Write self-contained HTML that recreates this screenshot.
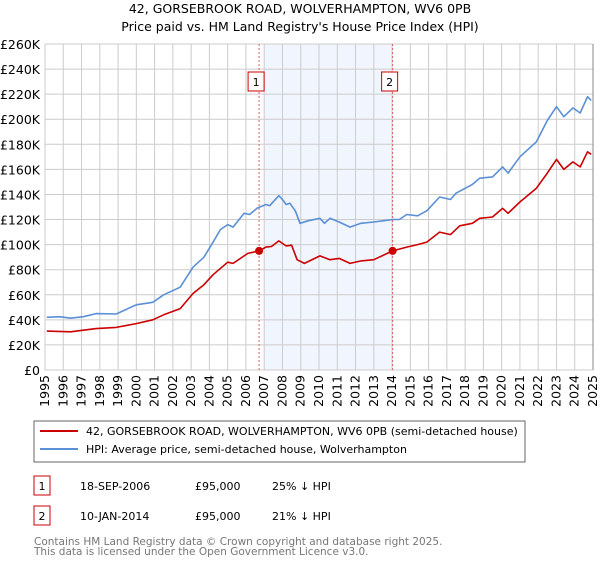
<!DOCTYPE html>
<html><head><meta charset="utf-8"><style>
body{margin:0;background:#fff;font-family:"DejaVu Sans","Liberation Sans",sans-serif;}
svg text{font-family:"DejaVu Sans","Liberation Sans",sans-serif;}
</style></head><body>
<svg id="c" width="600" height="560" xmlns="http://www.w3.org/2000/svg">
<text x="300" y="13" text-anchor="middle" font-size="12.5">42, GORSEBROOK ROAD, WOLVERHAMPTON, WV6 0PB</text>
<text x="300" y="31" text-anchor="middle" font-size="12.5">Price paid vs. HM Land Registry's House Price Index (HPI)</text>
<g id="plot"></g>
<rect x="34" y="421" width="491" height="41" fill="none" stroke="#666"/>
<line x1="40" y1="431" x2="78" y2="431" stroke="#cc0000" stroke-width="2"/>
<text x="86" y="435" font-size="11">42, GORSEBROOK ROAD, WOLVERHAMPTON, WV6 0PB (semi-detached house)</text>
<line x1="40" y1="449" x2="78" y2="449" stroke="#5b8fd6" stroke-width="2"/>
<text x="86" y="453" font-size="11">HPI: Average price, semi-detached house, Wolverhampton</text>
<g>
<rect x="34" y="476" width="16" height="19" fill="#fff" stroke="#cc0000"/>
<text x="42" y="490" text-anchor="middle" font-size="11">1</text>
<text x="80" y="490" font-size="11">18-SEP-2006</text>
<text x="195" y="490" font-size="11">£95,000</text>
<text x="272" y="490" font-size="11">25% ↓ HPI</text></g>
<g>
<rect x="34" y="506" width="16" height="19" fill="#fff" stroke="#cc0000"/>
<text x="42" y="520" text-anchor="middle" font-size="11">2</text>
<text x="80" y="520" font-size="11">10-JAN-2014</text>
<text x="195" y="520" font-size="11">£95,000</text>
<text x="272" y="520" font-size="11">21% ↓ HPI</text></g>
<text x="34" y="545" font-size="10.5" fill="#777">Contains HM Land Registry data © Crown copyright and database right 2025.</text>
<text x="34" y="555" font-size="10.5" fill="#777">This data is licensed under the Open Government Licence v3.0.</text>
</svg>
<script>
const hpiYears=[1995.1,1995.8,1996.4,1997.1,1997.8,1998.9,2000,2000.9,2001.5,2002.4,2003.1,2003.7,2004.2,2004.6,2005,2005.3,2005.9,2006.2,2006.6,2007.1,2007.3,2007.8,2008,2008.2,2008.4,2008.7,2008.96,2009.4,2010.05,2010.3,2010.6,2011.1,2011.7,2012.3,2013,2013.5,2014.05,2014.4,2014.8,2015.4,2015.9,2016.6,2017.2,2017.5,2018.4,2018.8,2019.5,2020.05,2020.35,2021,2021.9,2022.5,2023,2023.4,2023.9,2024.3,2024.7,2024.9];
const hpiValues=[42,42.5,41.3,42.5,45,44.7,52,54,60,66,82,90,102,112,116,114,125,124,129,132,131,139,136,132,133,127,117,119,121,117,121,118,114,117,118,119,120,120,124,123,127,138,136,141,148,153,154,162,157,170,182,199,210,202,209,205,218,215];
const ppYears=[1995.1,1996.4,1997.8,1998.9,2000,2000.9,2001.5,2002.4,2003.1,2003.7,2004.2,2005,2005.3,2006.1,2006.72,2007.1,2007.4,2007.8,2008.2,2008.5,2008.8,2009.2,2010.05,2010.6,2011.1,2011.7,2012.3,2013,2014.03,2014.8,2015.4,2015.9,2016.6,2017.2,2017.7,2018.4,2018.8,2019.5,2020.05,2020.35,2021,2021.9,2022.5,2023,2023.4,2023.9,2024.3,2024.7,2024.9];
const ppValues=[31,30.5,33,34,37,40,44,49,61,68,76,86,85,93,95,98,98.5,103,99,99.5,88,85,91,88,89,85,87,88,95,98,100,102,110,108,115,117,121,122,129,125,134,145,157,168,160,166,162,174,172];
const saleYears=[2006.72,2014.03];
const saleValues=[95,95];
const saleLabels=["1","2"];
const yTicks=[0,20,40,60,80,100,120,140,160,180,200,220,240,260];
const xTicks=[1995,1996,1997,1998,1999,2000,2001,2002,2003,2004,2005,2006,2007,2008,2009,2010,2011,2012,2013,2014,2015,2016,2017,2018,2019,2020,2021,2022,2023,2024,2025];
const X0=45,X1=593,Y0=370,Y1=44;
const xs=y=>X0+(y-1995)/30*(X1-X0);
const ys=v=>Y0-v/260*(Y0-Y1);
const NS="http://www.w3.org/2000/svg";
const g=document.getElementById('plot');
function mk(t,a){const e=document.createElementNS(NS,t);for(const k in a)e.setAttribute(k,a[k]);g.appendChild(e);return e;}
let sh=mk('rect',{x:xs(2007),y:Y1,width:xs(saleYears[1])-xs(2007),height:Y0-Y1,fill:'#eef3fd',opacity:0.8});


yTicks.forEach(v=>{
 let l=mk('line',{x1:X0,x2:X1,y1:ys(v),y2:ys(v),stroke:'#ccc'});
 
 
 let t=mk('text',{x:40,y:ys(v)+5,'text-anchor':'end','font-size':'12.5'});
 t.textContent=v==0?'£0':'£'+v+'K';
 
 
});
xTicks.forEach(y=>{
 let l=mk('line',{x1:xs(y),x2:xs(y),y1:Y1,y2:Y0,stroke:'#ccc'});
 
 
 let t=mk('text',{x:0,y:0,'font-size':'12.5','text-anchor':'end',transform:`translate(${xs(y)+4},${Y0+5}) rotate(-90)`});
 t.textContent=y;
 
 
});
saleYears.forEach((y,i)=>{
 let l=mk('line',{x1:xs(y),x2:xs(y),y1:Y1,y2:Y0,stroke:'#e06060','stroke-dasharray':'2,2'});
 
 
});
function path(xa,va,c,n){
 let d=xa.map((y,i)=>(i?'L':'M')+xs(y).toFixed(1)+','+ys(va[i]).toFixed(1)).join('');
 let p=mk('path',{d:d,fill:'none',stroke:c,'stroke-width':1.6,'stroke-linejoin':'round'});
 
 
}
path(hpiYears,hpiValues,'#5b8fd6','hpi-line');
path(ppYears,ppValues,'#cc0000','property-price-line');
saleYears.forEach((y,i)=>{
 let c=mk('circle',{cx:xs(y),cy:ys(saleValues[i]),r:4,fill:'#cc0000'});
 
 
 let r=mk('rect',{x:xs(y)-11,y:72,width:16,height:19,fill:'#fff',stroke:'#cc0000'});
 
 
 let t=mk('text',{x:xs(y)-3,y:86,'text-anchor':'middle','font-size':'11'});
 t.textContent=saleLabels[i];
 
 
});
let ax=mk('line',{x1:X1,x2:X1,y1:Y1,y2:Y0,stroke:'#888'});


</script>
</body></html>
